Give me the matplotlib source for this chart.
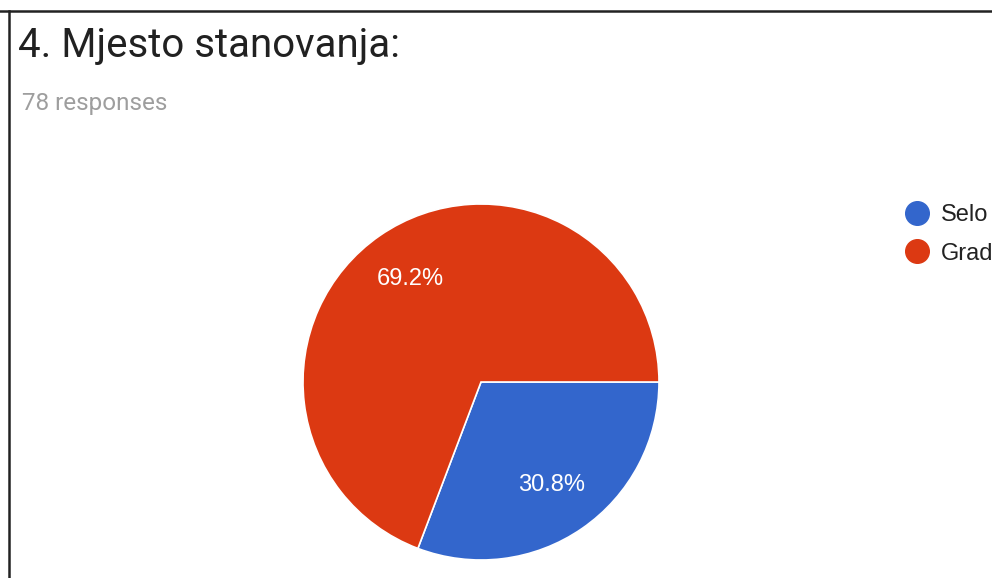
import matplotlib
matplotlib.use('Agg')
import matplotlib.pyplot as plt
from matplotlib.lines import Line2D

# data
labels  = ['Selo', 'Grad']
values  = [24, 54]
colors  = ['#3366CC', '#DC3912']
title   = '4. Mjesto stanovanja:'
subline = '78 responses'

W, H = 992, 578
fig = plt.figure(figsize=(W/100, H/100), dpi=100)
fig.patch.set_facecolor('white')

def px(x, y):
    return x / W, 1 - y / H

# frame lines (top and left only)
fig.add_artist(Line2D([0, 1], [px(0, 11)[1]]*2, color='#222222', lw=1.8, transform=fig.transFigure))
fig.add_artist(Line2D([px(9, 0)[0]]*2, [0, px(0, 11)[1]], color='#222222', lw=1.8, transform=fig.transFigure))

x, y = px(18, 57)
fig.text(x, y, title, fontsize=29, family=['Roboto', 'DejaVu Sans'], color='#212121', va='baseline')
x, y = px(22, 110)
fig.text(x, y, subline, fontsize=17.5, family=['Roboto', 'DejaVu Sans'], color='#9e9e9e', va='baseline')

cx, cy, r = 481, 382, 178
ax = fig.add_axes([(cx - r)/W, (H - cy - r)/H, 2*r/W, 2*r/H])
wedges, texts, autotexts = ax.pie(values, colors=colors, startangle=0, counterclock=False,
                                  autopct='%1.1f%%', pctdistance=0.7, radius=1,
                                  wedgeprops=dict(edgecolor='white', linewidth=1.2),
                                  textprops=dict(color='white', fontsize=17,
                                                 family=['Liberation Sans', 'DejaVu Sans']))
ax.set_xlim(-1, 1)
ax.set_ylim(-1, 1)
ax.set_aspect('equal')
ax.axis('off')

handles = [Line2D([], [], marker='o', ls='', markersize=17, markerfacecolor=c,
                  markeredgecolor=c) for c in colors]
lx, ly = px(905, 204)
leg = fig.legend(handles, labels, loc='upper left', bbox_to_anchor=(lx, ly),
                 frameon=False, borderpad=0, borderaxespad=0, handlelength=1.0,
                 handletextpad=0.5, labelspacing=0.7,
                 prop=dict(family=['Liberation Sans', 'DejaVu Sans'], size=17))
for t in leg.get_texts():
    t.set_color('#222222')

fig.savefig('out.png', dpi=100, facecolor='white')
